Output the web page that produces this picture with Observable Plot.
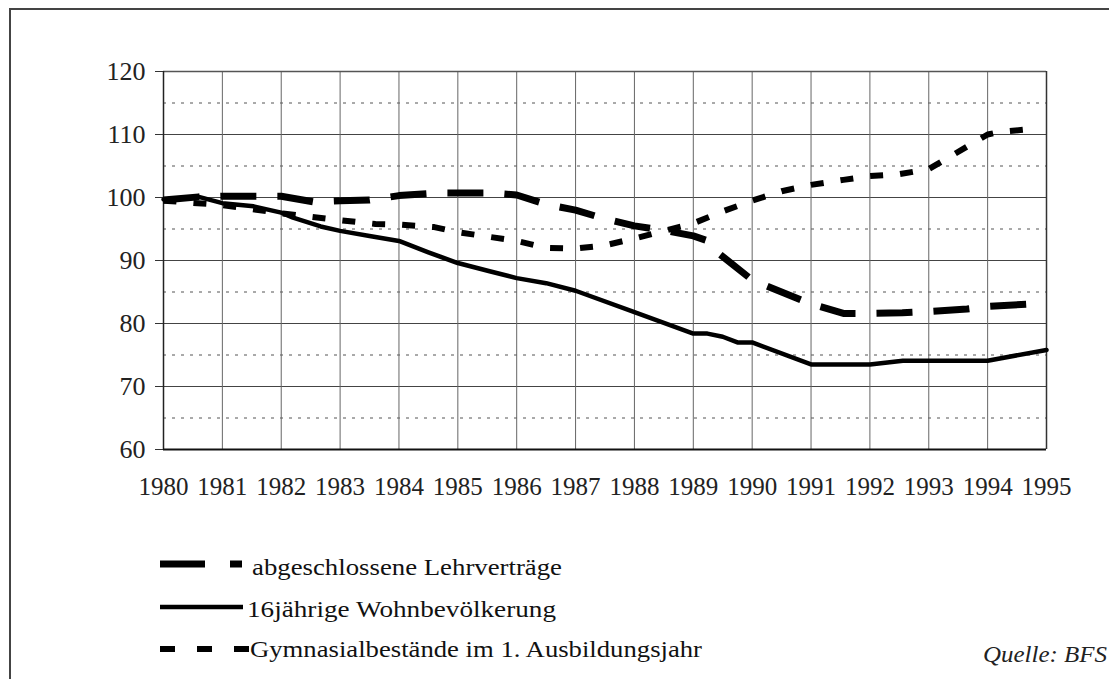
<!DOCTYPE html>
<html><head><meta charset="utf-8">
<script src="https://cdn.jsdelivr.net/npm/d3@7"></script>
<script src="https://cdn.jsdelivr.net/npm/@observablehq/plot@0.6"></script>
<style>
html,body{margin:0;padding:0;background:#fff;}
#wrap{position:relative;width:1109px;height:679px;overflow:hidden;font-family:"Liberation Serif","Times New Roman",serif;}
#frame{position:absolute;left:9px;top:8px;width:1200px;height:800px;border-left:2px solid #444;border-top:2px solid #444;box-sizing:border-box;}
#chart{position:absolute;left:0;top:0;}
#legend{position:absolute;left:0;top:0;}
</style>
</head><body>
<div id="wrap"><div id="frame"></div><div id="chart"></div><svg id="legend" width="1109" height="679"></svg></div>
<script>
// ---- data ----
const years = d3.range(1980, 1996);
const yTicks = [60, 70, 80, 90, 100, 110, 120];
const yMinor = [65, 75, 85, 95, 105, 115];

const seriesNames = ["abgeschlossene Lehrverträge", "16jährige Wohnbevölkerung", "Gymnasialbestände im 1. Ausbildungsjahr"];

const lehrX = [1980, 1980.6, 1981, 1982, 1982.55, 1983, 1983.5, 1984, 1984.6, 1985, 1985.6, 1986, 1986.5, 1987, 1987.5, 1988, 1988.55, 1989, 1989.25, 1989.45, 1990, 1991, 1991.55, 1992, 1992.55, 1993, 1993.65, 1994, 1994.7];
const lehrY = [99.6, 100.1, 100.2, 100.2, 99.3, 99.5, 99.6, 100.3, 100.7, 100.7, 100.7, 100.4, 98.9, 98.0, 96.6, 95.5, 94.7, 93.9, 93.1, 91.0, 86.9, 83.1, 81.6, 81.6, 81.7, 81.9, 82.3, 82.7, 83.1];

const wohnX = [1980, 1980.6, 1981, 1981.53, 1982, 1982.2, 1982.67, 1983, 1983.5, 1984, 1984.5, 1985, 1985.54, 1986, 1986.5, 1987, 1988, 1989, 1989.24, 1989.5, 1989.75, 1990, 1991, 1992, 1992.56, 1994, 1995];
const wohnY = [99.7, 100.1, 99.1, 98.6, 97.6, 96.8, 95.4, 94.7, 93.9, 93.1, 91.3, 89.6, 88.3, 87.2, 86.4, 85.2, 81.8, 78.4, 78.4, 77.9, 77.0, 77.0, 73.5, 73.5, 74.1, 74.1, 75.8];

const gymX = [1980, 1981, 1982, 1983, 1983.6, 1984, 1984.6, 1985, 1986, 1986.5, 1987, 1987.5, 1988, 1989, 1989.5, 1990, 1990.5, 1991, 1991.55, 1992, 1992.5, 1993, 1994, 1994.2, 1994.65];
const gymY = [99.5, 98.8, 97.5, 96.4, 95.8, 95.7, 95.3, 94.5, 93.1, 92.0, 91.9, 92.4, 93.5, 95.9, 97.8, 99.5, 101.0, 102.0, 102.8, 103.4, 103.7, 104.5, 110.0, 110.4, 110.8];

const sourceText = "Quelle: BFS";

// ---- styles ----
const styles = [
  {strokeWidth: 7, strokeDasharray: "36,21", strokeLinecap: "butt", strokeLinejoin: "miter"},
  {strokeWidth: 4.5, strokeDasharray: null, strokeLinecap: "round", strokeLinejoin: "round"},
  {strokeWidth: 6, strokeDasharray: "13,17", strokeLinecap: "butt", strokeLinejoin: "miter"}
];

function lineMark(xs, ys, st) {
  const o = {x: xs, y: ys, stroke: "#000", strokeWidth: st.strokeWidth, strokeLinecap: st.strokeLinecap, strokeLinejoin: st.strokeLinejoin, curve: "linear"};
  if (st.strokeDasharray) o.strokeDasharray = st.strokeDasharray;
  return Plot.line(d3.range(xs.length), o);
}

const plot = Plot.plot({
  width: 1109, height: 510,
  marginLeft: 163, marginRight: 63, marginTop: 71, marginBottom: 61,
  x: {domain: [1980, 1995]},
  y: {domain: [60, 120]},
  style: {fontFamily: '"Liberation Serif", "Times New Roman", serif', background: "transparent", color: "#222"},
  marks: [
    Plot.ruleY(yMinor, {stroke: "#555", strokeDasharray: "3,6", strokeWidth: 1}),
    Plot.ruleY(yTicks, {stroke: "#444", strokeWidth: 1}),
    Plot.ruleX(years, {stroke: "#666", strokeWidth: 1}),
    Plot.ruleY([120], {stroke: "#555", strokeWidth: 1.5}),
    Plot.ruleX([1995], {stroke: "#333", strokeWidth: 1.5}),
    Plot.ruleX([1980], {stroke: "#222", strokeWidth: 1.5}),
    Plot.ruleY([60], {stroke: "#111", strokeWidth: 2}),
    Plot.axisY({ticks: yTicks, tickSize: 8, tickPadding: 10, fontSize: 26, label: null, stroke: "#333"}),
    Plot.axisX({ticks: years, tickSize: 0, tickPadding: 28, fontSize: 25, tickFormat: d => String(d), label: null}),
    lineMark(lehrX, lehrY, styles[0]),
    lineMark(wohnX, wohnY, styles[1]),
    lineMark(gymX, gymY, styles[2])
  ]
});
document.getElementById("chart").appendChild(plot);

// ---- legend & source ----
const leg = d3.select("#legend");
const legLayout = [
  {sy: 564, ty: 575, x1: 160, x2: 242, dash: "45,25,12", w: 7, tx: 252, tl: 310},
  {sy: 607, ty: 617, x1: 160, x2: 243, dash: null, w: 4.5, tx: 247, tl: 309},
  {sy: 649, ty: 657, x1: 160, x2: 250, dash: "15,22", w: 6, tx: 250, tl: 452}
];
seriesNames.forEach((name, i) => {
  const L = legLayout[i];
  const ln = leg.append("line").attr("x1", L.x1).attr("x2", L.x2).attr("y1", L.sy).attr("y2", L.sy)
    .attr("stroke", "#000").attr("stroke-width", L.w);
  if (L.dash) ln.attr("stroke-dasharray", L.dash);
  leg.append("text").attr("x", L.tx).attr("y", L.ty).text(name)
    .attr("font-family", '"Liberation Serif", "Times New Roman", serif').attr("font-size", 23.5)
    .attr("fill", "#111").attr("textLength", L.tl).attr("lengthAdjust", "spacingAndGlyphs");
});
leg.append("text").attr("x", 1107).attr("y", 662).attr("text-anchor", "end").text(sourceText)
  .attr("font-family", '"Liberation Serif", "Times New Roman", serif').attr("font-style", "italic")
  .attr("font-size", 23.5).attr("fill", "#222").attr("textLength", 124).attr("lengthAdjust", "spacingAndGlyphs");
</script>
</body></html>
